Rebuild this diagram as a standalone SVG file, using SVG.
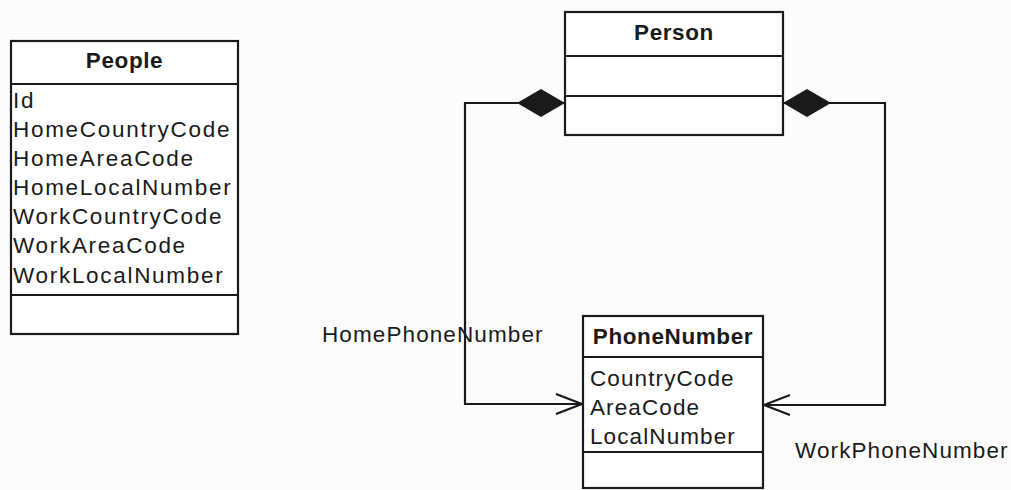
<svg xmlns="http://www.w3.org/2000/svg" width="1011" height="490" viewBox="0 0 1011 490">
<style>
.box{fill:#ffffff;stroke:#1a1a1a;stroke-width:2.2}
.sep{stroke:#1a1a1a;stroke-width:2.2}
.t{font-family:"Liberation Sans",Arial,sans-serif;font-size:22.5px;fill:#1a1a1a;letter-spacing:1.1px}
.p{letter-spacing:1.7px}
.h{font-family:"Liberation Sans",Arial,sans-serif;font-size:22.5px;font-weight:bold;fill:#1a1a1a;text-anchor:middle;letter-spacing:0.6px}
.c{fill:none;stroke:#1a1a1a;stroke-width:2.2}
</style>
<defs>
<marker id="diamond" viewBox="0 0 48 30" refX="48" refY="15" markerWidth="48" markerHeight="30" markerUnits="userSpaceOnUse" orient="auto-start-reverse">
<path d="M0 15 L24 1 L48 15 L24 29 Z" fill="#1a1a1a"/>
</marker>
<marker id="open" viewBox="0 0 28 22" refX="27" refY="11" markerWidth="28" markerHeight="22" markerUnits="userSpaceOnUse" orient="auto">
<path d="M1 1 L27 11 L1 21" fill="none" stroke="#1a1a1a" stroke-width="2.2"/>
</marker>
</defs>
<rect width="1011" height="490" fill="#fcfcfc"/>
<g id="connectors">
<path class="c" d="M565 103 L465 103 L465 404 L582 404" marker-start="url(#diamond)" marker-end="url(#open)"/>
<path class="c" d="M783 103 L885 103 L885 405 L764 405" marker-start="url(#diamond)" marker-end="url(#open)"/>
<text class="t" x="322" y="342">HomePhoneNumber</text>
<text class="t" x="795" y="458">WorkPhoneNumber</text>
</g>
<g id="people">
<rect class="box" x="11" y="41" width="227" height="293"/>
<line class="sep" x1="11" y1="84" x2="238" y2="84"/>
<line class="sep" x1="11" y1="295" x2="238" y2="295"/>
<text class="h" x="124.5" y="68">People</text>
<text class="t p" x="13" y="108">Id</text>
<text class="t p" x="13" y="137">HomeCountryCode</text>
<text class="t p" x="13" y="166">HomeAreaCode</text>
<text class="t p" x="13" y="195">HomeLocalNumber</text>
<text class="t p" x="13" y="224">WorkCountryCode</text>
<text class="t p" x="13" y="253">WorkAreaCode</text>
<text class="t p" x="13" y="283">WorkLocalNumber</text>
</g>
<g id="person">
<rect class="box" x="565" y="12" width="218" height="123"/>
<line class="sep" x1="565" y1="56" x2="783" y2="56"/>
<line class="sep" x1="565" y1="96" x2="783" y2="96"/>
<text class="h" x="674" y="40">Person</text>
</g>
<g id="phonenumber">
<rect class="box" x="583" y="316" width="180" height="172"/>
<line class="sep" x1="583" y1="357" x2="763" y2="357"/>
<line class="sep" x1="583" y1="452" x2="763" y2="452"/>
<text class="h" x="673" y="344">PhoneNumber</text>
<text class="t" x="590" y="386">CountryCode</text>
<text class="t" x="590" y="415">AreaCode</text>
<text class="t" x="590" y="444">LocalNumber</text>
</g>
</svg>
